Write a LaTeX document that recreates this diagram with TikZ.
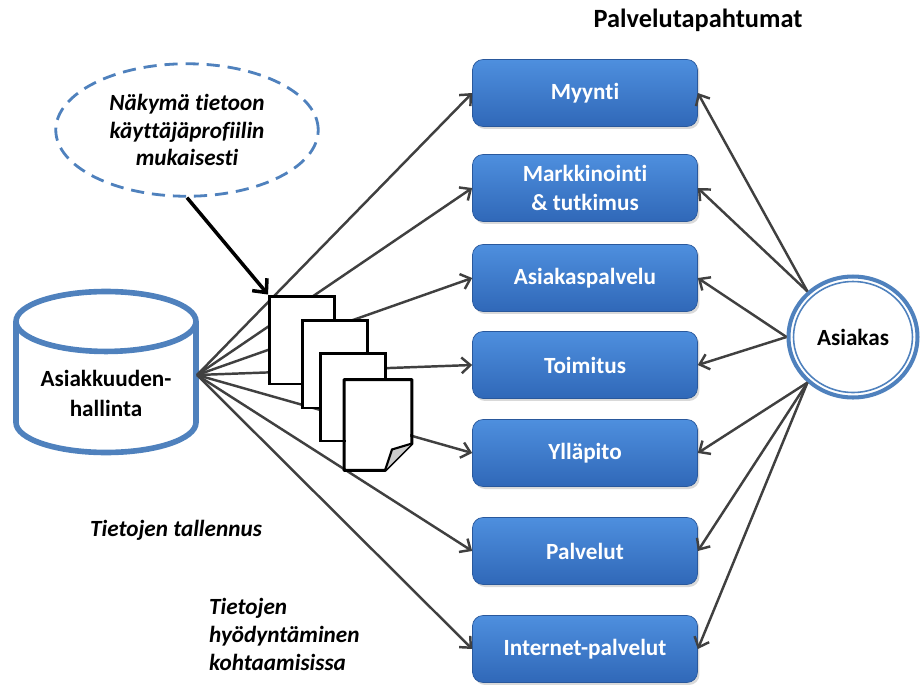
\documentclass[tikz,border=0pt]{standalone}
\usepackage{fontspec}
\setmainfont{Carlito}[Ligatures=NoCommon]
\usetikzlibrary{arrows.meta,positioning,calc,shapes.geometric,shadows}
\definecolor{OfficeBlue}{RGB}{79,129,189}
\definecolor{BoxBlueTop}{RGB}{78,143,222}
\definecolor{BoxBlueBottom}{RGB}{48,104,184}
\definecolor{ArrowGrey}{RGB}{64,64,64}

\tikzset{
  palvelu/.style={rounded corners=6pt,minimum width=4.5cm,minimum height=1.34cm,
    top color=BoxBlueTop,bottom color=BoxBlueBottom,draw=BoxBlueBottom!85!black,thin,
    text=white,align=center,font=\bfseries\fontsize{13.2}{17}\selectfont,
    drop shadow={opacity=0.3,shadow xshift=0.04cm,shadow yshift=-0.05cm}},
  yhteys/.style={-{Straight Barb[length=5pt,width=9pt]},ArrowGrey,line width=1.4pt},
  arkki/.style={draw,fill=white,line width=1.7pt,minimum width=1.30cm,minimum height=1.76cm,inner sep=0pt},
  selite/.style={font=\bfseries\itshape\fontsize{13.2}{15.8}\selectfont,align=left},
}

\begin{document}
\begin{tikzpicture}[x=0.02cm,y=-0.02cm]
\useasboundingbox (0,0) rectangle (921,684);

% palvelutapahtumat
\node[font=\bfseries\fontsize{15}{18}\selectfont] (otsikko) at (698,20) {Palvelutapahtumat};
\node[palvelu] (myynti) at (585,93) {Myynti};
\node[palvelu] (markkinointi) at (585,188) {Markkinointi\\\& tutkimus};
\node[palvelu] (asiakaspalvelu) at (585,278) {Asiakaspalvelu};
\node[palvelu] (toimitus) at (585,365) {Toimitus};
\node[palvelu] (yllapito) at (585,453) {Ylläpito};
\node[palvelu] (palvelut) at (585,551) {Palvelut};
\node[palvelu] (internet) at (585,649) {Internet-palvelut};

% asiakas
\node[ellipse,draw=OfficeBlue,line width=2.3pt,minimum width=2.58cm,minimum height=2.42cm,
  font=\bfseries\fontsize{13.2}{16}\selectfont] (asiakas) at (853,337) {Asiakas};
\draw[OfficeBlue,line width=0.9pt] (asiakas.center) ellipse [x radius=1.19cm,y radius=1.11cm];

% tietokanta
\node[cylinder,shape border rotate=90,aspect=0.42,draw=OfficeBlue,line width=3.2pt,
  minimum width=3.6cm,minimum height=3.22cm,align=center,anchor=shape center,
  font=\bfseries\fontsize{13.2}{17}\selectfont] (crm) at (106,372) {Asiakkuuden-\\hallinta};
\coordinate (hub) at (197,375);

% naakyma
\node[ellipse,draw=OfficeBlue,line width=1.6pt,dash pattern=on 7.5pt off 4.5pt,
  minimum width=5.25cm,minimum height=2.65cm,selite,align=center,
  font=\bfseries\itshape\fontsize{13.2}{15.8}\selectfont] (nakyma) at (187,130)
  {Näkymä tietoon\\käyttäjäprofiilin\\mukaisesti};

% tallennus -> palvelut
\draw[yhteys] (hub) -- (myynti.west);
\draw[yhteys] (hub) -- (markkinointi.west);
\draw[yhteys] (hub) -- (asiakaspalvelu.west);
\draw[yhteys] (hub) -- (toimitus.west);
\draw[yhteys] (hub) -- (yllapito.west);
\draw[yhteys] (hub) -- (palvelut.west);
\draw[yhteys] (hub) -- (internet.west);

% asiakas -> palvelut
\draw[yhteys] (asiakas.135) -- (myynti.east);
\draw[yhteys] (asiakas.135) -- (markkinointi.east);
\draw[yhteys] (asiakas.west) -- (asiakaspalvelu.east);
\draw[yhteys] (asiakas.west) -- (toimitus.east);
\draw[yhteys] (asiakas.225) -- (yllapito.east);
\draw[yhteys] (asiakas.225) -- (palvelut.east);
\draw[yhteys] (asiakas.225) -- (internet.east);

% dokumentit
\node[arkki] (doc1) at (302,340) {};
\node[arkki] (doc2) at (335,364) {};
\node[arkki] (doc3) at (353,397) {};
\node[arkki,draw=none] (doc4) at (378,425) {};
\draw[line width=1.7pt,line join=round] (doc4.north west) -- (doc4.north east)
  -- ($(doc4.south east)+(0,-27)$) -- ($(doc4.south east)+(-27,0)$) -- (doc4.south west) -- cycle;
\draw[line width=1.2pt,fill=black!20] ($(doc4.south east)+(-27,0)$) -- ($(doc4.south east)+(-20,-21)$)
  -- ($(doc4.south east)+(0,-27)$);

\draw[-{Straight Barb[length=6pt,width=11pt]},line width=2pt] (nakyma.south) -- (doc1.north west);

% selitteet
\node[selite] (tallennus) at (176,530) {Tietojen tallennus};
\node[selite,anchor=north west] (hyodyntaminen) at (203,592) {Tietojen\\hyödyntäminen\\kohtaamisissa};
\end{tikzpicture}
\end{document}
